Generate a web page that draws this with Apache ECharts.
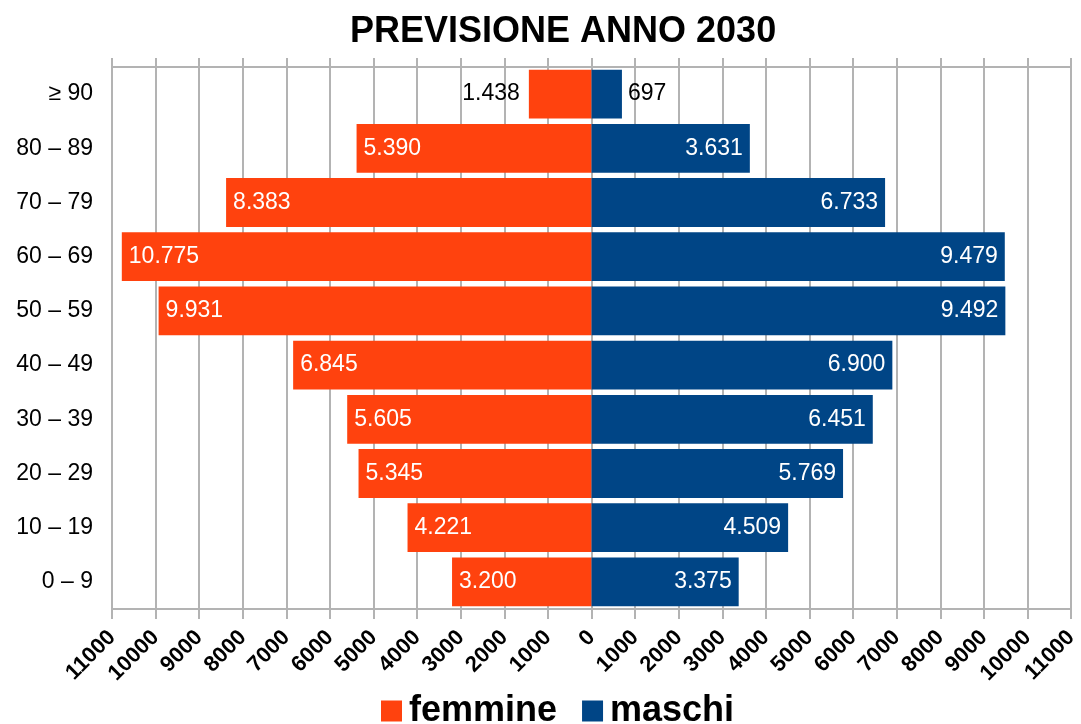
<!DOCTYPE html>
<html>
<head>
<meta charset="utf-8">
<script src="https://cdn.jsdelivr.net/npm/echarts@6/dist/echarts.min.js"></script>
<style>
  html, body { margin: 0; padding: 0; background: #fff; }
  #chart { width: 1081px; height: 724px; }
</style>
</head>
<body>
<div id="chart"></div>
<script>
  // fasce d'eta, dal basso verso l'alto
  let ageGroups = ['0 – 9', '10 – 19', '20 – 29', '30 – 39', '40 – 49', '50 – 59', '60 – 69', '70 – 79', '80 – 89', '≥ 90']
  let femmine = [3200, 4221, 5345, 5605, 6845, 9931, 10775, 8383, 5390, 1438]
  let maschi = [3375, 4509, 5769, 6451, 6900, 9492, 9479, 6733, 3631, 697]
  let title = 'PREVISIONE ANNO 2030'

  let gridColor = '#b3b3b3'

  function fmt(v) {
    return String(Math.abs(v)).replace(/\B(?=(\d{3})+(?!\d))/g, '.')
  }

  // ultima fascia: etichette fuori dalla barra
  let femData = femmine.map(function (v, i) {
    let item = { value: -v }
    if (i === femmine.length - 1) {
      item.label = { position: 'left', color: '#000', distance: 9 }
    }
    return item
  })
  let maschiData = maschi.map(function (v, i) {
    let item = { value: v }
    if (i === maschi.length - 1) {
      item.label = { position: 'right', color: '#000', distance: 6 }
    }
    return item
  })

  let barLabel = {
    show: true,
    color: '#fff',
    fontFamily: 'Liberation Sans',
    fontSize: 23,
    distance: 7,
    formatter: function (p) {
      return fmt(p.value)
    }
  }

  const option = {
    backgroundColor: '#fff',
    animation: false,
    title: {
      text: title,
      left: 350,
      top: 14,
      padding: 0,
      textStyle: {
        fontFamily: 'Liberation Sans',
        fontWeight: 'bold',
        fontSize: 36,
        color: '#000'
      }
    },
    legend: {
      top: 693,
      left: 381,
      padding: 0,
      icon: 'rect',
      itemWidth: 21,
      itemHeight: 21,
      itemGap: 25,
      textStyle: {
        fontFamily: 'Liberation Sans',
        fontWeight: 'bold',
        fontSize: 36,
        color: '#000',
        padding: [0, 0, 0, 2]
      },
      data: ['femmine', 'maschi']
    },
    grid: {
      left: 112,
      right: 6,
      top: 67,
      bottom: 115
    },
    xAxis: [{
      type: 'value',
      min: -11000,
      max: 11000,
      interval: 1000,
      position: 'bottom',
      axisLine: { show: true, lineStyle: { color: gridColor, width: 2 } },
      axisTick: { show: true, length: 10, lineStyle: { color: gridColor, width: 2 } },
      splitLine: { show: true, lineStyle: { color: gridColor, width: 2 } },
      axisLabel: {
        rotate: 45,
        margin: 25,
        color: '#000',
        fontFamily: 'Liberation Sans',
        fontWeight: 'bold',
        fontSize: 22,
        formatter: function (v) {
          return Math.abs(v)
        }
      }
    }, {
      type: 'value',
      min: -11000,
      max: 11000,
      interval: 1000,
      position: 'top',
      axisLine: { show: true, lineStyle: { color: gridColor, width: 2 } },
      axisTick: { show: true, length: 9, lineStyle: { color: gridColor, width: 2 } },
      splitLine: { show: false },
      axisLabel: { show: false }
    }],
    yAxis: {
      type: 'category',
      data: ageGroups,
      axisLine: { show: false, onZero: false },
      axisTick: { show: false },
      axisLabel: {
        margin: 19,
        color: '#000',
        fontFamily: 'Liberation Sans',
        fontSize: 23
      }
    },
    series: [{
      name: 'femmine',
      type: 'bar',
      barGap: '-100%',
      barCategoryGap: '10%',
      itemStyle: { color: '#ff420e' },
      label: Object.assign({ position: 'insideLeft' }, barLabel),
      data: femData
    }, {
      name: 'maschi',
      type: 'bar',
      barGap: '-100%',
      barCategoryGap: '10%',
      itemStyle: { color: '#004586' },
      label: Object.assign({ position: 'insideRight' }, barLabel),
      data: maschiData
    }]
  }

  const chart = echarts.init(document.getElementById('chart'))
  chart.setOption(option)
  window.addEventListener('resize', () => {
    chart.resize()
  })
</script>
</body>
</html>
